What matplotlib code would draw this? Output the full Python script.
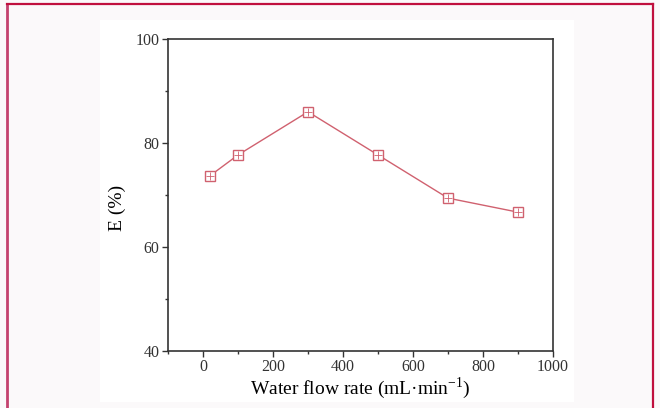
import matplotlib
matplotlib.use("Agg")
import matplotlib.pyplot as plt
from matplotlib.patches import Rectangle
from matplotlib.ticker import MultipleLocator

# data
flow_rate = [20, 100, 300, 500, 700, 900]
efficiency = [73.7, 77.7, 86.0, 77.7, 69.4, 66.7]

plt.rcParams['font.family'] = ['Liberation Serif', 'DejaVu Serif']

fig = plt.figure(figsize=(6.6, 4.08), dpi=100)
fig.patch.set_facecolor('#fbf9fa')

# white panel behind the chart
fig.add_artist(Rectangle((100 / 660, 1 - 402 / 408), 474 / 660, 382 / 408,
                         transform=fig.transFigure, facecolor='white',
                         edgecolor='none', zorder=0))
# crimson frame (left, top, right)
fig.add_artist(plt.Line2D([7 / 660, 7 / 660], [0, 1 - 4 / 408],
                          transform=fig.transFigure, color='#c4426e', lw=2))
fig.add_artist(plt.Line2D([7 / 660, 653 / 660], [1 - 4 / 408, 1 - 4 / 408],
                          transform=fig.transFigure, color='#c0103e', lw=1.6))
fig.add_artist(plt.Line2D([653 / 660, 653 / 660], [0, 1 - 4 / 408],
                          transform=fig.transFigure, color='#c0103e', lw=1.6))

ax = fig.add_axes([168 / 660, 1 - 351 / 408, 385 / 660, 312 / 408])
ax.set_facecolor('white')

col = '#d0616f'
ax.plot(flow_rate, efficiency, color=col, lw=1.0, marker='s', ms=6.5,
        mfc='white', mec=col, mew=1.0)
ax.plot(flow_rate, efficiency, ls='none', marker='+', ms=5.5, mec=col, mew=0.6)

ax.set_xlim(-100, 1000)
ax.set_ylim(40, 100)
ax.xaxis.set_major_locator(MultipleLocator(200))
ax.xaxis.set_minor_locator(MultipleLocator(100))
ax.yaxis.set_major_locator(MultipleLocator(20))
ax.yaxis.set_minor_locator(MultipleLocator(10))

for s in ax.spines.values():
    s.set_color('#333333')
    s.set_linewidth(1.2)

ax.tick_params(which='both', direction='out', top=False, right=False,
               colors='#333333', labelsize=11.5, width=1.0)
ax.tick_params(which='major', length=4, pad=2)
ax.tick_params(which='minor', length=2.5)

ax.set_xlabel('Water flow rate (mL·min$^{\\mathregular{-1}}$)', fontsize=14,
              labelpad=0)
ax.set_ylabel('E (%)', fontsize=14)
ax.yaxis.set_label_coords(-0.11, 0.46)

fig.savefig('out.png', dpi=100, facecolor=fig.get_facecolor())
